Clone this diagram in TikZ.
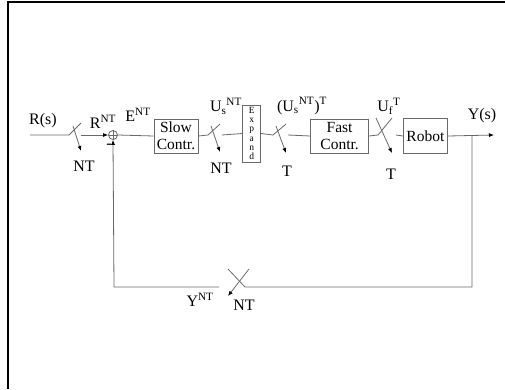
\documentclass[tikz,border=0pt]{standalone}
\usepackage{fontspec}
\setmainfont{Liberation Serif}
\usetikzlibrary{positioning, calc, arrows.meta}
\definecolor{LineGray}{RGB}{105, 105, 105}
\newcommand{\subsup}[2]{\textsubscript{#1}\textsuperscript{#2}}

\begin{document}
\begin{tikzpicture}[
    x=1pt, y=-1pt,
    font=\fontsize{16}{17}\selectfont,
    block/.style={rectangle, draw=LineGray, fill=white, align=center, inner sep=1pt, minimum height=34pt, line width=0.8pt, font=\fontsize{15.5}{17}\selectfont},
    wire/.style={draw=LineGray, line width=0.8pt},
    sig/.style={wire, -{Latex[length=5pt, width=4pt, color=black]}},
    lbl/.style={inner sep=0pt}
]
    \useasboundingbox (0,0) rectangle (505,389);

    % Frame
    \draw [line width=2pt] (8,389) -- (8,2) -- (505,2);

    % Blocks
    \node (slow) [block, minimum width=44pt] at (176,136) {Slow\\Contr.};
    \node (expand) [block, minimum width=18pt, minimum height=57pt, right=44pt of slow, yshift=2.5pt, font=\fontsize{9.5}{9.3}\selectfont] {E\\x\\p\\a\\n\\d};
    \node (fast) [block, minimum width=58pt, right=49pt of slow.east -| expand.east, anchor=west] {Fast\\Contr.};
    \node (robot) [block, minimum width=44pt, minimum height=35pt, right=34pt of fast] {Robot};
    \node (sum) [circle, draw=LineGray, line width=0.8pt, inner sep=0pt, minimum size=9pt] at (113,135) {};
    \draw [wire, line width=0.6pt] (sum.north) -- (sum.south) (sum.west) -- (sum.east);

    % Sampler points
    \coordinate (rin) at (30,135);
    \coordinate (s1a) at (69,135);  \coordinate (s1b) at (81,123);
    \coordinate (s1c) at (73,126);  \coordinate (s1d) at (81,151);  \coordinate (s1o) at (81,135);
    \coordinate (s2a) at (208,135); \coordinate (s2b) at (220,124);
    \coordinate (s2c) at (211,126); \coordinate (s2d) at (220,152); \coordinate (s2o) at (222,135);
    \coordinate (s3a) at (273,135); \coordinate (s3b) at (286,124);
    \coordinate (s3c) at (276,126); \coordinate (s3d) at (286,153); \coordinate (s3o) at (288,135);
    \coordinate (s4a) at (378,135); \coordinate (s4b) at (392,118);
    \coordinate (s4c) at (376,118); \coordinate (s4d) at (392,153); \coordinate (s4o) at (396,135);
    \coordinate (yout) at (494,135);
    \coordinate (ytap) at (472,135);
    \coordinate (fbr) at (472,287);
    \coordinate (s5a) at (245,287); \coordinate (s5b) at (228,269);
    \coordinate (s5c) at (249,269); \coordinate (s5d) at (228,296); \coordinate (s5o) at (219,287);
    \coordinate (fbl) at (114,287);

    % Forward path
    \draw [wire] (rin) -- (s1a) -- (s1b);
    \draw [sig] (s1c) -- (s1d);
    \draw [sig] (s1o) -- (sum.west);
    \draw [wire] (sum.east) -- (slow.west);
    \draw [wire] (slow.east) -- (s2a) -- (s2b);
    \draw [sig] (s2c) -- (s2d);
    \draw [wire] (s2o) -- (expand.west);
    \draw [wire] (expand.east) -- (s3a) -- (s3b);
    \draw [sig] (s3c) -- (s3d);
    \draw [wire] (s3o) -- (fast.west);
    \draw [wire] (fast.east) -- (s4a) -- (s4b);
    \draw [sig] (s4c) -- (s4d);
    \draw [wire] (s4o) -- (robot.west);
    \draw [sig] (robot.east) -- (yout);

    % Feedback path
    \draw [wire] (ytap) -- (fbr) -- (s5a) -- (s5b);
    \draw [sig] (s5c) -- (s5d);
    \draw [sig] (s5o) -- (fbl) -- (sum.south);

    % Labels
    \node (l_rs) [lbl] at (43,121) {R(s)};
    \node (l_nt1) [lbl] at (84,166) {NT};
    \node (l_rnt) [lbl] at (103,122) {R\textsuperscript{NT}};
    \node (l_minus) [lbl] at (109,146) {-};
    \node (l_ent) [lbl] at (138,115) {E\textsuperscript{NT}};
    \node (l_us) [lbl] at (226,106) {U\subsup{s}{NT}};
    \node (l_nt2) [lbl] at (221,168) {NT};
    \node (l_ust) [lbl] at (302,106) {(U\subsup{s}{NT})\textsuperscript{T}};
    \node (l_t3) [lbl] at (287,171) {T};
    \node (l_uf) [lbl] at (389,106) {U\subsup{f}{T}};
    \node (l_t4) [lbl] at (391,174) {T};
    \node (l_ys) [lbl] at (482,116) {Y(s)};
    \node (l_ynt) [lbl] at (200,300) {Y\textsuperscript{NT}};
    \node (l_nt5) [lbl] at (244,305) {NT};

\end{tikzpicture}
\end{document}
